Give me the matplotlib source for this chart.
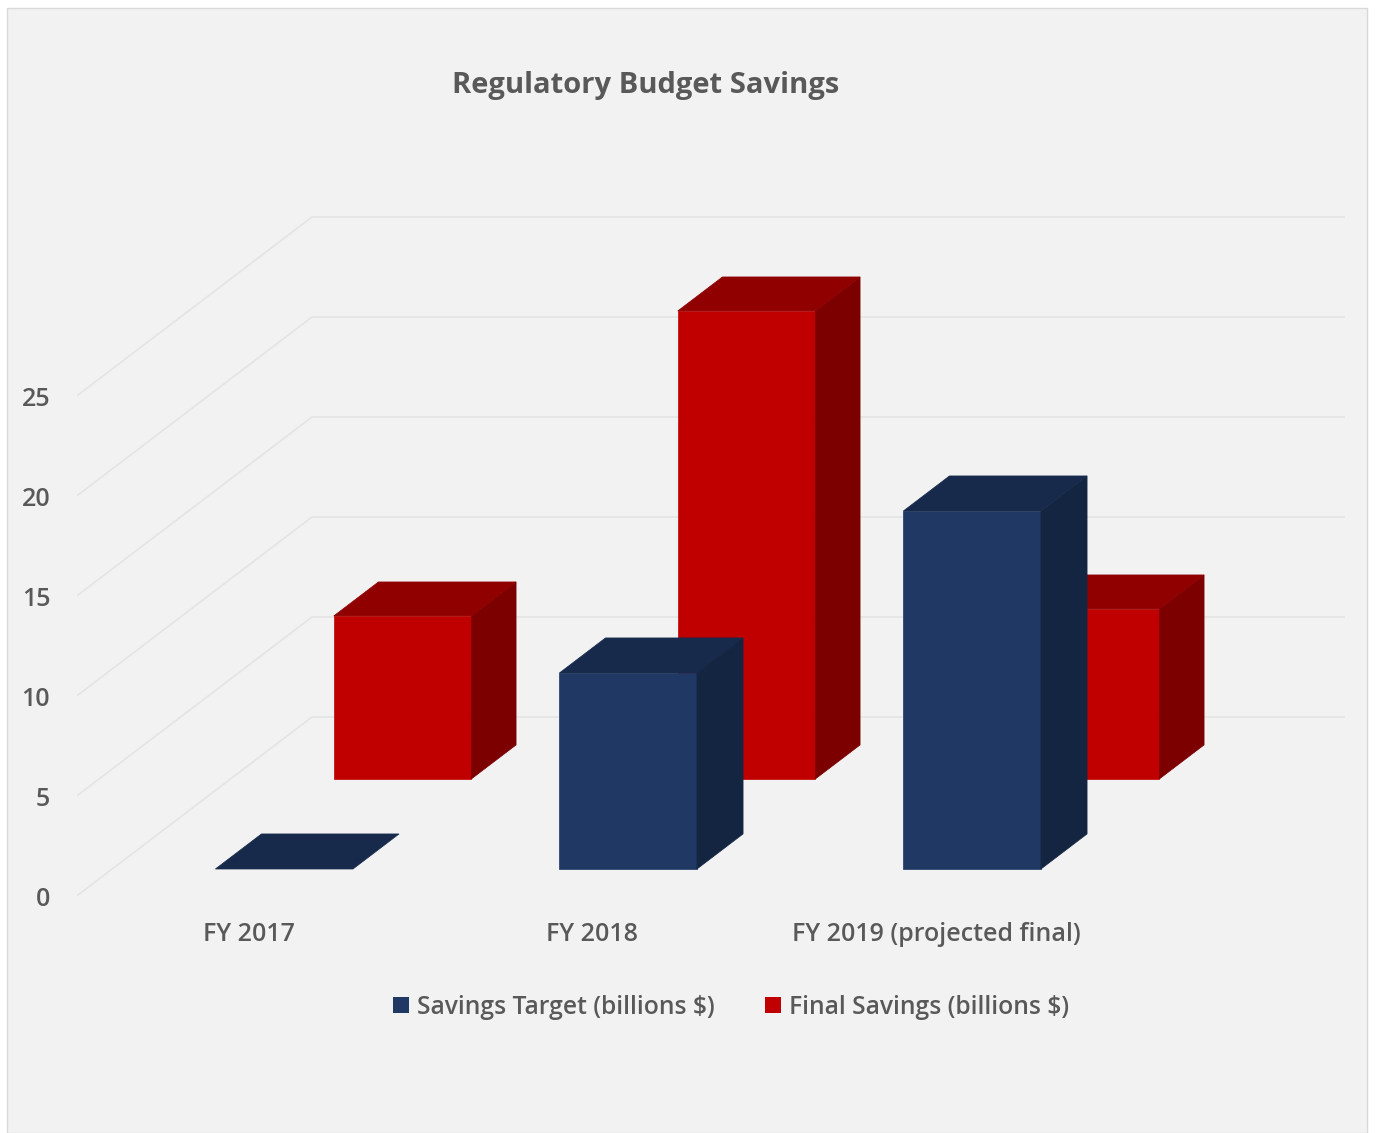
import matplotlib
matplotlib.use("Agg")
import matplotlib.pyplot as plt
from matplotlib.patches import Polygon, Rectangle
from matplotlib.transforms import ScaledTranslation

# data
categories = ["FY 2017", "FY 2018", "FY 2019 (projected final)"]
savings_target = [0, 9.8, 17.9]
final_savings = [8.15, 23.4, 8.5]
y_ticks = [0, 5, 10, 15, 20, 25]
series_names = ["Savings Target (billions $)", "Final Savings (billions $)"]

W, H = 1375, 1133
plt.rcParams["font.family"] = ["Open Sans", "DejaVu Sans"]

fig = plt.figure(figsize=(W / 100, H / 100), dpi=100, facecolor="white")

# card behind the chart
fig.add_artist(Rectangle((7 / W, 0), 1360 / W, 1 - 8 / H, transform=fig.transFigure,
                         facecolor="#f2f2f2", edgecolor="#d9d9d9", linewidth=1, zorder=-1))

# front plane of the fake 3D box
ax = fig.add_axes([78 / W, 1 - 895 / H, 1032 / W, 500 / H])
ax.patch.set_alpha(0)
ax.set_xlim(-0.5, 2.5)
ax.set_ylim(0, 25)
for s in ax.spines.values():
    s.set_visible(False)

# depth direction, 1.0 = back wall
DX = 234 / 344
DY = 178 / 20
BAR_W = 0.4


def project(x, v, z):
    return x + z * DX, v + z * DY


def add_poly(points, color):
    ax.add_patch(Polygon(points, closed=True, facecolor=color, edgecolor=color,
                         linewidth=0.5, clip_on=False, zorder=2))


def draw_bar(i, value, z0, z1, front, top, side):
    l, r = i - BAR_W / 2, i + BAR_W / 2
    if value > 0:
        add_poly([project(l, 0, z0), project(r, 0, z0), project(r, value, z0), project(l, value, z0)], front)
        add_poly([project(r, 0, z0), project(r, 0, z1), project(r, value, z1), project(r, value, z0)], side)
    add_poly([project(l, value, z0), project(r, value, z0), project(r, value, z1), project(l, value, z1)], top)


# gridlines: side wall then back wall
for t in y_ticks:
    xs = [-0.5, project(-0.5, t, 1)[0], project(2.5, t, 1)[0]]
    ys = [t, t + DY, t + DY]
    ax.plot(xs, ys, color="#e4e4e4", linewidth=1.2, clip_on=False, zorder=1)

# back row first, then the front row
for i, v in enumerate(final_savings):
    draw_bar(i, v, 0.652, 0.843, "#c00000", "#900000", "#7c0000")
for i, v in enumerate(savings_target):
    draw_bar(i, v, 0.146, 0.343, "#1f3864", "#172a4b", "#142542")

ax.set_xticks(range(len(categories)))
ax.set_xticklabels(categories, fontsize=18, color="#595959", fontweight="semibold")
ax.set_yticks(y_ticks)
ax.set_yticklabels(y_ticks, fontsize=18, color="#595959", fontweight="semibold")
ax.tick_params(length=0)
ax.tick_params(axis="x", pad=19.5)
ax.tick_params(axis="y", pad=20)

# small nudges so the labels sit where the original has them
for lab in ax.get_xticklabels():
    lab.set_transform(lab.get_transform() + ScaledTranslation(-1.5 / 100, 0, fig.dpi_scale_trans))
for lab in ax.get_yticklabels():
    lab.set_transform(lab.get_transform() + ScaledTranslation(0, -1.5 / 100, fig.dpi_scale_trans))

fig.text(646 / W, 1 - 85 / H, "Regulatory Budget Savings", ha="center", va="center",
         fontsize=21, fontweight="bold", color="#595959")

# legend
for x0, name, color in [(393, series_names[0], "#1f3864"), (765, series_names[1], "#c00000")]:
    fig.add_artist(Rectangle((x0 / W, 1 - 1013 / H), 16 / W, 16 / H, transform=fig.transFigure,
                             facecolor=color, edgecolor="none"))
    fig.text((x0 + 24) / W, 1 - 1007 / H, name, ha="left", va="center",
             fontsize=17.7, fontweight="semibold", color="#595959")

fig.savefig("out.png", dpi=100, facecolor=fig.get_facecolor())
